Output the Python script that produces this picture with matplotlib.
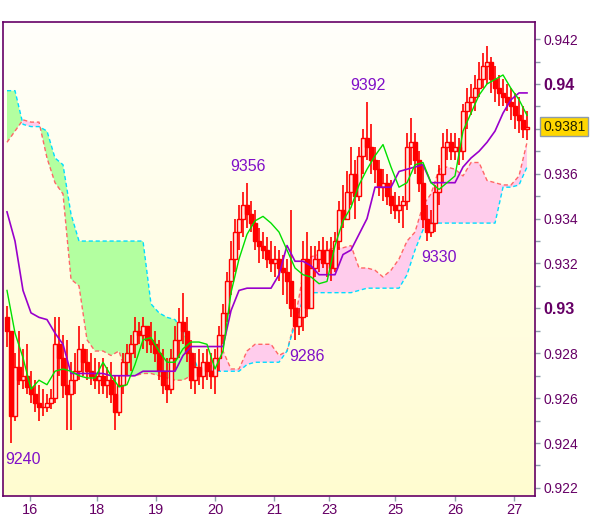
import matplotlib
matplotlib.use("Agg")
import matplotlib.pyplot as plt
import numpy as np

plt.rcParams["font.family"] = ["Liberation Sans", "DejaVu Sans"]

# ---------------------------------------------------------------- data (price * 10000)
first_open = 9296
high = [9301, 9286, 9280, 9290, 9282, 9284, 9272, 9268, 9266, 9264, 9262, 9264, 9296, 9296, 9288,
        9286, 9276, 9280, 9292, 9284, 9282, 9280, 9278, 9276, 9278, 9274, 9276, 9270, 9270, 9280,
        9284, 9288, 9296, 9294, 9296, 9292, 9294, 9290, 9286, 9282, 9278, 9282, 9292, 9300, 9307,
        9296, 9286, 9280, 9282, 9280, 9282, 9280, 9282, 9292, 9302, 9316, 9330, 9340, 9346, 9352,
        9356, 9348, 9344, 9336, 9334, 9332, 9330, 9328, 9326, 9324, 9322, 9344, 9304, 9300, 9330,
        9334, 9328, 9328, 9330, 9332, 9330, 9332, 9334, 9348, 9355, 9361, 9372, 9366, 9372, 9380,
        9392, 9382, 9372, 9366, 9362, 9360, 9357, 9352, 9350, 9350, 9378, 9385, 9378, 9370, 9364,
        9346, 9344, 9355, 9364, 9378, 9380, 9378, 9378, 9376, 9391, 9398, 9400, 9404, 9410, 9414,
        9417, 9412, 9408, 9404, 9402, 9400, 9398, 9396, 9394, 9390, 9388]
low = [9283, 9240, 9250, 9266, 9264, 9262, 9258, 9254, 9250, 9252, 9254, 9255, 9258, 9270, 9260,
       9246, 9246, 9262, 9268, 9270, 9268, 9266, 9264, 9262, 9262, 9260, 9258, 9246, 9252, 9262,
       9270, 9272, 9278, 9284, 9282, 9280, 9280, 9276, 9268, 9262, 9258, 9262, 9272, 9278, 9284,
       9276, 9264, 9262, 9266, 9264, 9268, 9264, 9262, 9272, 9284, 9294, 9306, 9316, 9326, 9332,
       9336, 9334, 9326, 9320, 9322, 9318, 9316, 9314, 9312, 9306, 9302, 9296, 9286, 9288, 9290,
       9296, 9300, 9314, 9316, 9318, 9314, 9312, 9316, 9326, 9336, 9340, 9346, 9340, 9348, 9360,
       9366, 9360, 9356, 9350, 9348, 9346, 9342, 9340, 9338, 9336, 9344, 9364, 9360, 9352, 9336,
       9330, 9332, 9334, 9346, 9356, 9366, 9366, 9366, 9364, 9366, 9380, 9386, 9388, 9394, 9398,
       9400, 9396, 9392, 9390, 9390, 9388, 9384, 9380, 9378, 9376, 9375]
close = [9290, 9252, 9274, 9268, 9270, 9265, 9262, 9258, 9256, 9256, 9258, 9260, 9284, 9278, 9266,
         9262, 9268, 9272, 9282, 9276, 9272, 9270, 9268, 9270, 9266, 9268, 9262, 9254, 9266, 9276,
         9280, 9284, 9290, 9288, 9292, 9286, 9284, 9280, 9272, 9266, 9264, 9278, 9286, 9294, 9290,
         9280, 9268, 9274, 9270, 9276, 9272, 9270, 9278, 9288, 9298, 9312, 9322, 9334, 9340, 9346,
         9342, 9338, 9330, 9328, 9326, 9322, 9320, 9322, 9318, 9316, 9312, 9300, 9292, 9296, 9322,
         9300, 9318, 9322, 9326, 9320, 9326, 9318, 9330, 9344, 9340, 9352, 9360, 9350, 9368, 9376,
         9372, 9366, 9362, 9354, 9356, 9350, 9346, 9344, 9346, 9348, 9372, 9374, 9366, 9356, 9340,
         9334, 9338, 9352, 9360, 9372, 9374, 9370, 9372, 9370, 9388, 9392, 9394, 9398, 9402, 9408,
         9410, 9402, 9398, 9396, 9394, 9392, 9390, 9386, 9384, 9380, 9381]

# ichimoku lines, sampled every second bar
tenkan = [9308, 9289, 9278, 9264, 9268, 9266, 9272, 9273,
          9272, 9270, 9269, 9269, 9276, 9270, 9265, 9266, 9275, 9286,
          9287, 9281, 9276, 9276, 9282, 9285, 9285, 9284, 9273, 9281,
          9307, 9322, 9333, 9339, 9341, 9338, 9334, 9326, 9318, 9315,
          9314, 9311, 9312, 9328, 9339, 9345, 9355, 9362, 9368, 9373,
          9363, 9354, 9356, 9364, 9365, 9356, 9353, 9356, 9359, 9379,
          9387, 9395, 9400, 9402, 9404, 9398, 9393, 9386]
kijun = [9343, 9330, 9308, 9298, 9296, 9295, 9289, 9284,
         9271, 9271, 9271, 9271, 9271, 9270, 9270, 9270, 9270, 9272,
         9272, 9272, 9272, 9272, 9279, 9283, 9283, 9283, 9283, 9283,
         9299, 9308, 9309, 9309, 9309, 9309, 9315, 9328, 9321, 9321,
         9319, 9315, 9315, 9315, 9324, 9326, 9333, 9340, 9354, 9354,
         9354, 9361, 9362, 9363, 9364, 9356, 9356, 9356, 9356, 9363,
         9367, 9370, 9374, 9379, 9387, 9393, 9396, 9396]
span_a = [9374, 9379, 9384, 9383, 9383, 9367, 9356, 9351,
          9313, 9310, 9286, 9281, 9281, 9279, 9281, 9270, 9270, 9271,
          9271, 9270, 9269, 9268, 9268, 9270, 9271, 9272, 9277, 9281,
          9273, 9273, 9281, 9284, 9284, 9284, 9279, 9281, 9295, 9315,
          9323, 9324, 9326, 9327, 9327, 9328, 9318, 9318, 9317, 9314,
          9317, 9322, 9330, 9334, 9346, 9351, 9362, 9363, 9362, 9359,
          9365, 9365, 9357, 9356, 9355, 9355, 9359, 9374]
span_b = [9397, 9397, 9382, 9381, 9381, 9379, 9367, 9364,
          9342, 9330, 9330, 9330, 9330, 9330, 9330, 9330, 9330, 9330,
          9302, 9298, 9296, 9295, 9290, 9281, 9272, 9272, 9272, 9272,
          9272, 9272, 9275, 9276, 9276, 9276, 9276, 9281, 9293, 9304,
          9307, 9307, 9307, 9307, 9307, 9307, 9308, 9309, 9309, 9309,
          9309, 9309, 9315, 9326, 9335, 9338, 9338, 9338, 9338, 9338,
          9338, 9338, 9338, 9338, 9354, 9354, 9355, 9363]

day_ticks = [5.75, 22.5, 37.25, 52, 66.75, 80.5, 97, 112, 126.75]
day_labels = ["16", "18", "19", "20", "21", "23", "25", "26", "27"]
price_ticks = [0.922, 0.924, 0.926, 0.928, 0.93, 0.932, 0.934, 0.936, 0.938, 0.94, 0.942]
high_marks = [9356, 9392]
low_marks = [9240, 9286, 9330]
last_price = 0.9381

FRAME = "#660066"
TICK = "#8d9cab"
MARK = "#8010c8"


def main():
    h = np.array(high) / 1e4
    l = np.array(low) / 1e4
    c = np.array(close) / 1e4
    o = np.r_[first_open / 1e4, c[:-1]]
    x = np.arange(len(c))
    xl = np.arange(0, len(c), 2)
    sa = np.array(span_a) / 1e4
    sb = np.array(span_b) / 1e4

    fig = plt.figure(figsize=(6.0, 5.19), dpi=100)
    ax = fig.add_axes([0.005, 0.0443, 0.8867, 0.9133])

    # background gradient (white at top -> pale yellow at bottom)
    grad = np.linspace(0, 1, 256)[:, None]
    cmap = matplotlib.colors.LinearSegmentedColormap.from_list("bg", ["#fffffb", "#fffcd0"])
    ax.imshow(grad, cmap=cmap, aspect="auto", extent=[0, 1, 0, 1], origin="upper",
              transform=ax.transAxes, zorder=0)

    # cloud
    ax.fill_between(xl, sa, sb, where=sb >= sa, interpolate=True,
                    color="#b3ffa0", lw=0, zorder=1)
    ax.fill_between(xl, sa, sb, where=sa >= sb, interpolate=True,
                    color="#ffccec", lw=0, zorder=1)
    ax.plot(xl, sa, color="#ff6666", lw=1, dashes=(3, 2), zorder=2)
    ax.plot(xl, sb, color="#00ddff", lw=1, dashes=(3, 2), zorder=2)

    # candles
    up = c >= o
    ax.vlines(x, l, h, color="red", lw=1.2, zorder=3)
    body_lo = np.minimum(o, c)
    body_h = np.abs(c - o)
    ax.bar(x[up], body_h[up], bottom=body_lo[up], width=0.8,
           facecolor="#ffe8e0", edgecolor="red", lw=1.0, zorder=4)
    ax.bar(x[~up], body_h[~up], bottom=body_lo[~up], width=0.8,
           facecolor="red", edgecolor="red", lw=1.0, zorder=4)

    ax.plot(xl, np.array(kijun) / 1e4, color="#9900cc", lw=1.2, zorder=5)
    ax.plot(xl, np.array(tenkan) / 1e4, color="#00e000", lw=1.0, zorder=5)

    # extreme labels
    for v in high_marks:
        i = int(np.argmax(np.array(high) == v))
        ax.annotate(str(v), (i, v / 1e4), xytext=(1, 9), textcoords="offset pixels",
                    ha="center", va="bottom", color=MARK, fontsize=11.5, zorder=6)
    for v in low_marks:
        i = int(np.argmax(np.array(low) == v))
        ax.annotate(str(v), (i, v / 1e4), xytext=(-6, -9), textcoords="offset pixels",
                    ha="left", va="top", color=MARK, fontsize=11.5, zorder=6)

    ax.set_xlim(-1, 132)
    ax.set_ylim(0.92164, 0.94276)

    # axes styling
    for s in ax.spines.values():
        s.set_color(FRAME)
        s.set_linewidth(1.2)
    ax.yaxis.tick_right()
    ax.set_yticks(price_ticks)
    # the label under the current-price box is hidden, as in the source chart
    ax.set_yticklabels(["" if abs(t - last_price) < 0.001 else f"{t:g}" for t in price_ticks])
    ax.set_yticks(np.arange(0.923, 0.9425, 0.002), minor=True)
    ax.set_xticks(day_ticks)
    ax.set_xticklabels(day_labels)
    ax.tick_params(axis="both", which="both", color=TICK, labelcolor=FRAME,
                   labelsize=10, length=3.5, width=1)
    ax.tick_params(axis="y", pad=2.5)
    ax.tick_params(axis="x", pad=1.5, labelsize=10.5)
    for lab in ax.get_yticklabels():
        if lab.get_text() in ("0.94", "0.93"):
            lab.set_fontweight("bold")
            lab.set_fontsize(11.5)

    # current price box
    ax.annotate(f"{last_price:.4f}", (1, last_price), xycoords=("axes fraction", "data"),
                xytext=(8, 0), textcoords="offset pixels", ha="left", va="center",
                fontsize=10, color="#222200", annotation_clip=False, zorder=10,
                bbox=dict(boxstyle="square,pad=0.2", fc="#ffd700", ec="#8d9cab", lw=1))

    fig.savefig("out.png", dpi=100)
    plt.close(fig)


if __name__ == "__main__":
    main()
